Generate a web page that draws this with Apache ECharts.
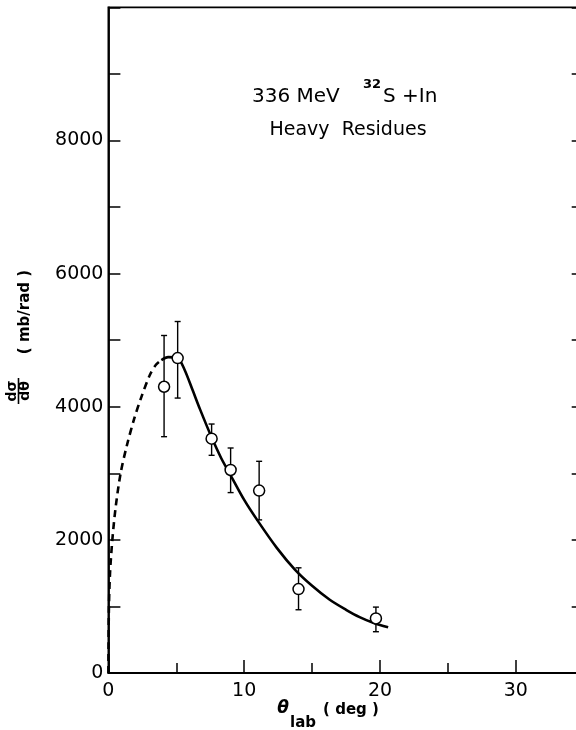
<!DOCTYPE html>
<html>
<head>
<meta charset="utf-8">
<script src="https://cdn.jsdelivr.net/npm/echarts@6/dist/echarts.min.js"></script>
<style>
  html, body { margin: 0; padding: 0; background: #fff; }
  #chart { width: 576px; height: 730px; }
</style>
</head>
<body>
<div id="chart"></div>
<script>
var chart = echarts.init(document.getElementById('chart'), null, { renderer: 'canvas' });

var FONT = 'DejaVu Sans';

// measured points: theta (deg), dsigma/dtheta (mb/rad), error bar low / high
var pointTheta = [4.1, 5.1, 7.6, 9.0, 11.1, 14.0, 19.7];
var pointValue = [4300, 4730, 3520, 3050, 2740, 1260, 820];
var errLow     = [3550, 4130, 3270, 2710, 2300, 950, 620];
var errHigh    = [5070, 5280, 3740, 3380, 3180, 1580, 990];

// fitted curve (solid) and extrapolation to 0 (dashed)
var solidCurve = [
    [3.9, 4700], [4.4, 4745], [5.1, 4730], [5.6, 4560], [6.2, 4250],
    [6.75, 3960], [7.6, 3540], [8.3, 3230], [9.0, 2970], [10.0, 2600],
    [11.0, 2285], [12.4, 1880], [13.75, 1550], [15.0, 1310], [16.3, 1100],
    [17.5, 950], [18.5, 840], [19.5, 755], [20.6, 686]
];
var dashedCurve = [
    [0, 0], [0.01, 400], [0.04, 1000], [0.12, 1500], [0.29, 2000],
    [0.54, 2500], [0.9, 3000], [1.35, 3410], [1.9, 3820], [2.4, 4130],
    [3.06, 4480], [3.5, 4630], [3.9, 4700]
];

var points = pointTheta.map(function (t, i) { return [t, pointValue[i]]; });
var errBars = pointTheta.map(function (t, i) { return [t, errLow[i], errHigh[i]]; });

chart.setOption({
    animation: false,
    backgroundColor: '#fff',
    grid: {
        left: 108.4, top: 7.3, width: 475.3, height: 665.7,
        outerBoundsMode: 'none',
        containLabel: false,
        show: true, borderColor: '#000', borderWidth: 1.8, backgroundColor: 'transparent'
    },
    xAxis: [{
        // minor ticks every 5 + labels
        type: 'value', min: 0, max: 35, interval: 5,
        axisLine: { onZero: false, lineStyle: { color: '#000', width: 1.8 } },
        axisTick: { inside: true, length: 10, lineStyle: { color: '#000', width: 1.5 } },
        axisLabel: {
            margin: 9, color: '#000', fontSize: 19, fontFamily: FONT,
            formatter: function (v) { return v % 10 === 0 ? v : ''; }
        },
        splitLine: { show: false }
    }, {
        // longer ticks every 10
        type: 'value', min: 0, max: 35, interval: 10, position: 'bottom',
        axisLine: { show: false, onZero: false },
        axisTick: { inside: true, length: 13, lineStyle: { color: '#000', width: 1.5 } },
        axisLabel: { show: false },
        splitLine: { show: false }
    }],
    yAxis: [{
        type: 'value', min: 0, max: 10000, interval: 1000, position: 'left',
        axisLine: { onZero: false, lineStyle: { color: '#000', width: 1.8 } },
        axisTick: { inside: true, length: 12, lineStyle: { color: '#000', width: 1.5 } },
        axisLabel: {
            margin: 5, color: '#000', fontSize: 19, fontFamily: FONT,
            formatter: function (v) { return (v % 2000 === 0 && v < 10000) ? v : ''; }
        },
        splitLine: { show: false }
    }, {
        type: 'value', min: 0, max: 10000, interval: 1000, position: 'right',
        axisLine: { show: false, onZero: false },
        axisTick: { inside: true, length: 12, lineStyle: { color: '#000', width: 1.5 } },
        axisLabel: { show: false },
        splitLine: { show: false }
    }],
    graphic: [
        // title
        { type: 'text', x: 252, y: 97, style: { text: '336 MeV', fill: '#000', fontSize: 20, fontFamily: FONT, align: 'left', verticalAlign: 'middle' } },
        { type: 'text', x: 363, y: 85, style: { text: '32', fill: '#000', fontSize: 13, fontFamily: FONT, fontWeight: 'bold', align: 'left', verticalAlign: 'middle' } },
        { type: 'text', x: 383, y: 97, style: { text: 'S +In', fill: '#000', fontSize: 20, fontFamily: FONT, align: 'left', verticalAlign: 'middle' } },
        { type: 'text', x: 348, y: 130, style: { text: 'Heavy  Residues', fill: '#000', fontSize: 19, fontFamily: FONT, align: 'center', verticalAlign: 'middle' } },
        // x axis name
        { type: 'text', x: 283, y: 709, style: { text: 'θ', fill: '#000', fontSize: 17, fontStyle: 'italic', fontWeight: 'bold', fontFamily: FONT, align: 'center', verticalAlign: 'middle' } },
        { type: 'text', x: 303, y: 723, style: { text: 'lab', fill: '#000', fontSize: 15, fontWeight: 'bold', fontFamily: FONT, align: 'center', verticalAlign: 'middle' } },
        { type: 'text', x: 351, y: 710, style: { text: '( deg )', fill: '#000', fontSize: 15, fontWeight: 'bold', fontFamily: FONT, align: 'center', verticalAlign: 'middle' } },
        // y axis name
        { type: 'text', x: 25.5, y: 312, rotation: Math.PI / 2, style: { text: '( mb/rad )', fill: '#000', fontSize: 15, fontWeight: 'bold', fontFamily: FONT, align: 'center', verticalAlign: 'middle' } },
        { type: 'text', x: 12.5, y: 391, rotation: Math.PI / 2, style: { text: 'dσ', fill: '#000', fontSize: 14, fontWeight: 'bold', fontFamily: FONT, align: 'center', verticalAlign: 'middle' } },
        { type: 'line', shape: { x1: 18.5, y1: 378, x2: 18.5, y2: 404 }, style: { stroke: '#000', lineWidth: 1.6 } },
        { type: 'text', x: 25, y: 391, rotation: Math.PI / 2, style: { text: 'dθ', fill: '#000', fontSize: 14, fontWeight: 'bold', fontFamily: FONT, align: 'center', verticalAlign: 'middle' } }
    ],
    series: [{
        type: 'line',
        data: dashedCurve,
        smooth: 0.3,
        symbol: 'none',
        lineStyle: { color: '#000', width: 2.6, type: [7, 5] },
        z: 2
    }, {
        type: 'line',
        data: solidCurve,
        smooth: 0.3,
        symbol: 'none',
        lineStyle: { color: '#000', width: 2.6 },
        z: 2
    }, {
        type: 'custom',
        data: errBars,
        renderItem: function (params, api) {
            var x = api.value(0);
            var lo = api.coord([x, api.value(1)]);
            var hi = api.coord([x, api.value(2)]);
            var w = 3;
            var st = { stroke: '#000', lineWidth: 1.4 };
            return {
                type: 'group',
                children: [
                    { type: 'line', shape: { x1: lo[0], y1: lo[1], x2: hi[0], y2: hi[1] }, style: st },
                    { type: 'line', shape: { x1: hi[0] - w, y1: hi[1], x2: hi[0] + w, y2: hi[1] }, style: st },
                    { type: 'line', shape: { x1: lo[0] - w, y1: lo[1], x2: lo[0] + w, y2: lo[1] }, style: st }
                ]
            };
        },
        z: 3
    }, {
        type: 'scatter',
        data: points,
        symbol: 'circle',
        symbolSize: 11,
        itemStyle: { color: '#fff', borderColor: '#000', borderWidth: 1.5, opacity: 1 },
        z: 4
    }]
});
</script>
</body>
</html>
